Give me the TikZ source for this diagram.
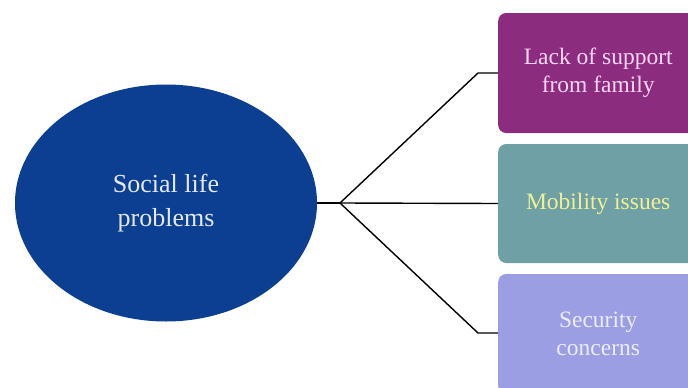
\documentclass[tikz,border=0pt]{standalone}
\usepackage{fontspec}
\setmainfont{Liberation Serif}
\usetikzlibrary{shapes.geometric}
\definecolor{ellfill}{RGB}{12,62,146}
\definecolor{ellText}{RGB}{228,234,245}
\definecolor{boxA}{RGB}{140,44,126}
\definecolor{boxB}{RGB}{110,160,165}
\definecolor{boxC}{RGB}{155,158,226}
\definecolor{txtA}{RGB}{250,214,244}
\definecolor{txtB}{RGB}{240,240,150}
\definecolor{txtC}{RGB}{236,236,250}
\tikzset{
  catbox/.style={draw=none, rounded corners=8pt, minimum width=200pt, minimum height=120pt, inner sep=0pt, align=center, anchor=west, font=\fontsize{23.5}{28}\selectfont},
  conn/.style={draw=black, line width=1.4pt}
}
\begin{document}
\begin{tikzpicture}[x=1pt,y=-1pt]
\clip (0,0) rectangle (688,388);
\fill[white] (0,0) rectangle (688,388);
\node[ellipse, fill=ellfill, minimum width=302pt, minimum height=237pt, inner sep=0pt, align=center, text=ellText, font=\fontsize{26}{34}\selectfont] (e) at (166,203) {Social life\\problems};
\node[catbox, fill=boxA, text=txtA] (b1) at (498,73) {Lack of support\\from family};
\node[catbox, fill=boxB, text=txtB, minimum height=119pt] (b2) at (498,203.5) {Mobility issues};
\node[catbox, fill=boxC, text=txtC] (b3) at (498,334) {Security\\concerns};
\coordinate (j) at (340,203);
\coordinate (k1) at (478,73);
\coordinate (k3) at (478,333);
\draw[conn, line width=2.2pt] (e.east) -- (j);
\draw[conn] (j) -- (k1) -- (b1.west);
\draw[conn] (j) -- (b2.west);
\draw[conn] (j) -- (k3) -- (b3.west |- k3);
\end{tikzpicture}
\end{document}
